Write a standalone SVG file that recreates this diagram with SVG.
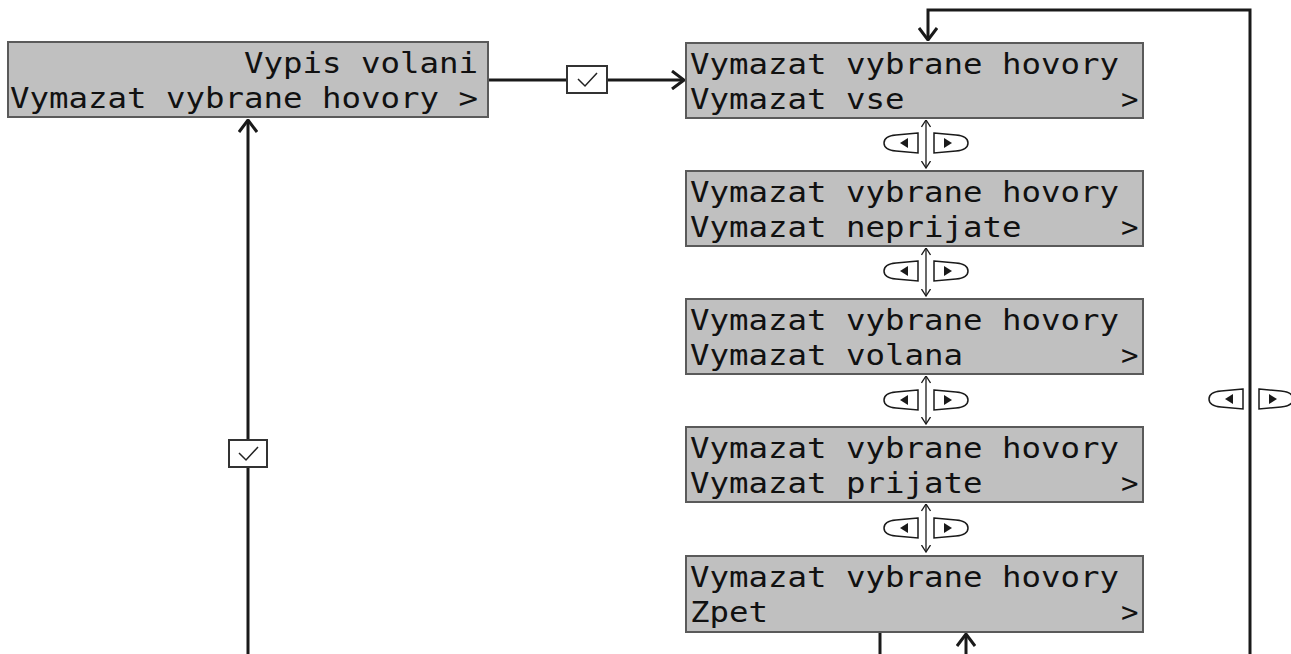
<svg xmlns="http://www.w3.org/2000/svg" width="1291" height="654" viewBox="0 0 1291 654">
<style>
.lcd{fill:#c0c0c0;stroke:#5a5a5a;stroke-width:2}
.t{font-family:"DejaVu Sans Mono","Liberation Mono",monospace;font-size:29px;fill:#111}
.thick{fill:none;stroke:#1a1a1a;stroke-width:3}
.thin{fill:none;stroke:#1a1a1a;stroke-width:1.3}
.btn{fill:#fff;stroke:#1a1a1a;stroke-width:1.5}
.tri{fill:#1a1a1a}
.chk{fill:#fff;stroke:#333;stroke-width:2}
.chkm{fill:none;stroke:#222;stroke-width:1.5}
</style>
<defs>
<marker id="big" viewBox="0 0 14 20" refX="13" refY="10" markerWidth="14" markerHeight="20" markerUnits="userSpaceOnUse" orient="auto-start-reverse">
<path d="M1,1 L13,10 L1,19" fill="none" stroke="#1a1a1a" stroke-width="3"/>
</marker>
<marker id="sm" viewBox="0 0 8 10" refX="7.5" refY="5" markerWidth="8" markerHeight="10" markerUnits="userSpaceOnUse" orient="auto-start-reverse">
<path d="M0.5,0.5 L7.5,5 L0.5,9.5" fill="none" stroke="#1a1a1a" stroke-width="1.3"/>
</marker>
<g id="btns">
<path class="btn" d="M-8,-10 L-30,-8 Q-42,-7 -42,0 Q-42,7 -30,8 L-8,10 Z"/>
<path class="tri" d="M-18,-5 L-26,0 L-18,5 Z"/>
<path class="btn" d="M8,-10 L30,-8 Q42,-7 42,0 Q42,7 30,8 L8,10 Z"/>
<path class="tri" d="M18,-5 L26,0 L18,5 Z"/>
</g>
</defs>

<g id="connectors">
<path class="thick" d="M488,80 L684,80" marker-end="url(#big)"/>
<path class="thick" d="M248,654 L248,120" marker-end="url(#big)"/>
<path class="thick" d="M1250,654 L1250,10 L928,10 L928,40" marker-end="url(#big)"/>
<path class="thick" d="M880,632 L880,654"/>
<path class="thick" d="M966,654 L966,634" marker-end="url(#big)"/>
<path class="thin" d="M926,120 L926,168" marker-start="url(#sm)" marker-end="url(#sm)"/>
<path class="thin" d="M926,248 L926,296" marker-start="url(#sm)" marker-end="url(#sm)"/>
<path class="thin" d="M926,376 L926,424" marker-start="url(#sm)" marker-end="url(#sm)"/>
<path class="thin" d="M926,504 L926,552" marker-start="url(#sm)" marker-end="url(#sm)"/>
<g id="chk1"><rect class="chk" x="567" y="66" width="40" height="27"/><path class="chkm" d="M578,79 L585,86 L597,73"/></g>
<g id="chk2"><rect class="chk" x="229" y="440" width="38" height="27"/><path class="chkm" d="M239,453 L246,460 L258,447"/></g>
<use href="#btns" x="926" y="143"/>
<use href="#btns" x="926" y="271"/>
<use href="#btns" x="926" y="400"/>
<use href="#btns" x="926" y="528"/>
<use href="#btns" x="1251" y="399"/>
</g>

<g id="n0">
<rect class="lcd" x="8" y="42" width="480" height="75"/>
<text class="t" x="244" y="73" textLength="234" lengthAdjust="spacingAndGlyphs">Vypis volani</text>
<text class="t" x="10" y="108" textLength="468" lengthAdjust="spacingAndGlyphs">Vymazat vybrane hovory &gt;</text>
</g>
<g id="n1">
<rect class="lcd" x="686" y="43" width="457" height="75"/>
<text class="t" x="690" y="74" textLength="429" lengthAdjust="spacingAndGlyphs">Vymazat vybrane hovory</text>
<text class="t" x="690" y="109" textLength="214.5" lengthAdjust="spacingAndGlyphs">Vymazat vse</text>
<text class="t" x="1121" y="109">&gt;</text>
</g>
<g id="n2">
<rect class="lcd" x="686" y="171" width="457" height="75"/>
<text class="t" x="690" y="202" textLength="429" lengthAdjust="spacingAndGlyphs">Vymazat vybrane hovory</text>
<text class="t" x="690" y="237" textLength="331.5" lengthAdjust="spacingAndGlyphs">Vymazat neprijate</text>
<text class="t" x="1121" y="237">&gt;</text>
</g>
<g id="n3">
<rect class="lcd" x="686" y="299" width="457" height="75"/>
<text class="t" x="690" y="330" textLength="429" lengthAdjust="spacingAndGlyphs">Vymazat vybrane hovory</text>
<text class="t" x="690" y="365" textLength="273" lengthAdjust="spacingAndGlyphs">Vymazat volana</text>
<text class="t" x="1121" y="365">&gt;</text>
</g>
<g id="n4">
<rect class="lcd" x="686" y="427" width="457" height="75"/>
<text class="t" x="690" y="458" textLength="429" lengthAdjust="spacingAndGlyphs">Vymazat vybrane hovory</text>
<text class="t" x="690" y="493" textLength="292.5" lengthAdjust="spacingAndGlyphs">Vymazat prijate</text>
<text class="t" x="1121" y="493">&gt;</text>
</g>
<g id="n5">
<rect class="lcd" x="686" y="556" width="457" height="76"/>
<text class="t" x="690" y="587" textLength="429" lengthAdjust="spacingAndGlyphs">Vymazat vybrane hovory</text>
<text class="t" x="690" y="622" textLength="78" lengthAdjust="spacingAndGlyphs">Zpet</text>
<text class="t" x="1121" y="622">&gt;</text>
</g>
</svg>
